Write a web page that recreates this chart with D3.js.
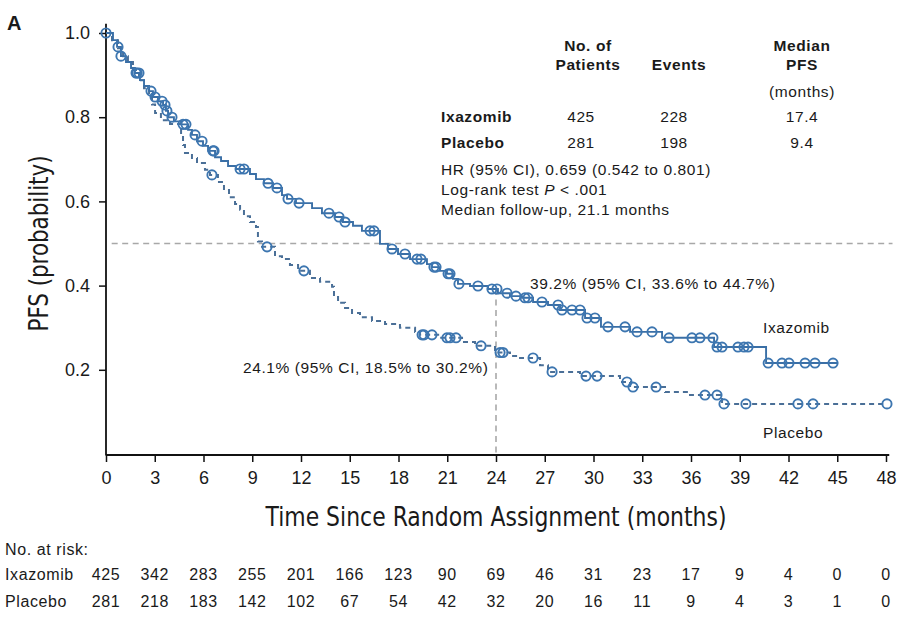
<!DOCTYPE html>
<html><head><meta charset="utf-8">
<script src="https://cdn.jsdelivr.net/npm/d3@7"></script>
<style>
body{margin:0;background:#fff;}
svg{display:block;}
text{font-family:"Liberation Sans",Arial,Helvetica,sans-serif;fill:#1a1a1a;}
.cond{font-family:"Liberation Sans Narrow","DejaVu Sans Condensed","Liberation Sans",sans-serif;}
.t{letter-spacing:0.6px;}
</style></head>
<body>
<svg id="chart" width="904" height="626"></svg>
<script>
// ---- data ----
const xTicks = [0,3,6,9,12,15,18,21,24,27,30,33,36,39,42,45,48];
const yTicks = [0.2,0.4,0.6,0.8,1.0];
const groups = ["Ixazomib","Placebo"];
// Kaplan-Meier step points [time (months), survival after drop]
const ixaSteps = [[0,1],[0.43,0.983],[0.68,0.967],[0.92,0.945],[1.23,0.931],[1.54,0.917],[1.78,0.905],[2.09,0.888],[2.34,0.874],[2.65,0.862],[2.89,0.848],[3.20,0.838],[3.51,0.829],[3.69,0.815],[3.82,0.800],[4.18,0.790],[4.62,0.783],[5.05,0.770],[5.29,0.758],[5.60,0.743],[5.97,0.732],[6.28,0.720],[6.71,0.705],[7.08,0.696],[7.51,0.684],[8.00,0.677],[8.86,0.665],[9.23,0.653],[9.72,0.643],[10.28,0.632],[10.83,0.615],[11.14,0.606],[11.69,0.596],[12.68,0.584],[13.29,0.572],[14.09,0.563],[14.58,0.551],[15.20,0.542],[15.75,0.530],[16.86,0.499],[17.35,0.487],[17.97,0.475],[18.71,0.463],[19.75,0.451],[20.06,0.444],[20.55,0.435],[20.98,0.428],[21.35,0.416],[21.66,0.404],[22.40,0.399],[23.51,0.392],[24.12,0.382],[24.86,0.375],[25.60,0.371],[26.28,0.361],[27.20,0.354],[27.94,0.342],[29.48,0.323],[30.46,0.302],[32.25,0.290],[34.22,0.276],[37.42,0.254],[40.62,0.216]];
const ixaEnd = 45.05;
const ixaCensor = [0,0.74,0.92,1.85,1.91,2.03,2.77,3.02,3.45,3.63,3.75,4.06,4.74,4.92,5.48,5.91,6.58,6.65,8.25,8.49,9.97,10.52,11.2,11.88,13.72,14.34,14.71,16.25,16.49,17.6,18.4,19.14,19.38,20.18,20.31,21.05,21.17,21.72,22.89,23.75,24.06,24.68,25.23,25.78,25.97,26.83,27.82,28.06,28.68,29.17,29.6,30.09,30.89,31.94,32.68,33.6,34.65,36.06,36.55,37.35,37.6,37.91,38.89,39.26,39.51,40.75,41.6,42.03,43.02,43.63,44.74];
const plaSteps = [[0,1],[0.37,0.983],[0.74,0.964],[1.05,0.945],[1.35,0.931],[1.66,0.912],[2.03,0.888],[2.34,0.869],[2.65,0.848],[2.83,0.830],[3.02,0.810],[3.38,0.793],[3.94,0.784],[4.62,0.758],[4.74,0.734],[4.86,0.715],[5.29,0.703],[5.60,0.691],[6.09,0.675],[6.40,0.663],[6.89,0.646],[7.26,0.627],[7.57,0.610],[7.94,0.594],[8.25,0.580],[8.49,0.565],[8.86,0.551],[9.23,0.539],[9.35,0.505],[9.6,0.492],[10.4,0.470],[10.83,0.463],[11.32,0.449],[11.82,0.435],[12.55,0.418],[13.17,0.409],[13.91,0.397],[14.03,0.373],[14.28,0.359],[14.71,0.347],[15.14,0.335],[15.63,0.325],[16.37,0.316],[17.17,0.309],[18.09,0.300],[19.02,0.290],[19.32,0.283],[20.55,0.276],[21.91,0.266],[22.71,0.257],[23.94,0.241],[24.86,0.233],[25.48,0.228],[26.71,0.211],[27.2,0.195],[29.17,0.185],[31.63,0.171],[32.25,0.159],[34.4,0.147],[35.94,0.140],[37.91,0.119]];
const plaEnd = 48.06;
const plaCensor = [6.52,9.91,12.18,19.45,19.57,20.06,20.98,21.17,21.54,23.08,24.25,24.43,26.28,27.45,29.54,30.22,32.06,32.43,33.85,36.86,37.6,38.03,39.38,42.58,43.51,48.06];
const riskIxa = [425,342,283,255,201,166,123,90,69,46,31,23,17,9,4,0,0];
const riskPla = [281,218,183,142,102,67,54,42,32,20,16,11,9,4,3,1,0];
const tableHead = [["No. of","Patients"],["","Events"],["Median","PFS"]];
const tableRows = [["Ixazomib","425","228","17.4"],["Placebo","281","198","9.4"]];
const medianLine = 0.5, landmark = 24, ixaAt24 = 0.392, plaAt24 = 0.241;

// ---- drawing ----
const svg = d3.select("#chart");
const x = d3.scaleLinear().domain([0,48]).range([106,886]);
const y = d3.scaleLinear().domain([0,1]).range([454,33]);
const ixaColor = "#3a6fa6", plaColor = "#4a6f97", circColor = "#3d76b0";

// reference lines
svg.append("line").attr("x1",x(0.35)).attr("x2",x(48.4)).attr("y1",y(medianLine)).attr("y2",y(medianLine))
  .attr("stroke","#a8a8a8").attr("stroke-width",1.6).attr("stroke-dasharray","6,4.5");
svg.append("line").attr("x1",x(landmark)).attr("x2",x(landmark)).attr("y1",y(ixaAt24)).attr("y2",y(0))
  .attr("stroke","#a8a8a8").attr("stroke-width",1.6).attr("stroke-dasharray","6,4.5");

// axes
const xAxis = svg.append("g").attr("transform",`translate(0,${y(0)+1})`)
  .call(d3.axisBottom(x).tickValues(xTicks).tickSize(7).tickSizeOuter(0).tickPadding(9));
xAxis.select(".domain").attr("stroke","#111").attr("stroke-width",1.8).attr("d",`M${x(0)},0H${x(48.2)}`);
xAxis.selectAll(".tick line").attr("stroke","#111").attr("stroke-width",1.5);
xAxis.selectAll(".tick text").attr("font-size",18).attr("fill","#1a1a1a").attr("font-family","Liberation Sans, Arial, sans-serif");

const yAxis = svg.append("g").attr("transform",`translate(${x(0)},0)`)
  .call(d3.axisLeft(y).tickValues(yTicks).tickFormat(d3.format(".1f")).tickSize(7).tickSizeOuter(0).tickPadding(9));
yAxis.select(".domain").attr("stroke","#111").attr("stroke-width",1.8).attr("d",`M0,${y(1.022)}V${y(0)+1.5}`);
yAxis.selectAll(".tick line").attr("stroke","#111").attr("stroke-width",1.5);
yAxis.selectAll(".tick text").attr("font-size",18).attr("fill","#1a1a1a").attr("font-family","Liberation Sans, Arial, sans-serif");

// axis titles
svg.append("text").attr("class","cond").attr("x",496).attr("y",526).attr("text-anchor","middle")
  .attr("font-size",27).attr("textLength",461).attr("lengthAdjust","spacingAndGlyphs")
  .text("Time Since Random Assignment (months)");
svg.append("text").attr("class","cond").attr("transform",`translate(48,${y(0.5)}) rotate(-90)`).attr("text-anchor","middle")
  .attr("font-size",27).attr("textLength",176).attr("lengthAdjust","spacingAndGlyphs")
  .text("PFS (probability)");
svg.append("text").attr("x",7).attr("y",30).attr("font-size",20).attr("font-weight","bold").text("A");

// curves
function path(steps,end){
  const pts = steps.concat([[end, steps[steps.length-1][1]]]);
  return d3.line().x(d=>x(d[0])).y(d=>y(d[1])).curve(d3.curveStepAfter)(pts);
}
function survAt(steps,t){let s=1;for(const d of steps){if(d[0]<=t+1e-9)s=d[1];}return s;}

svg.append("path").attr("d",path(plaSteps,plaEnd)).attr("fill","none").attr("stroke",plaColor)
  .attr("stroke-width",2).attr("stroke-dasharray","5,4");
svg.append("path").attr("d",path(ixaSteps,ixaEnd)).attr("fill","none").attr("stroke",ixaColor).attr("stroke-width",1.9);

svg.append("g").selectAll("circle").data(plaCensor).join("circle")
  .attr("cx",d=>x(d)).attr("cy",d=>y(survAt(plaSteps,d))).attr("r",4.6)
  .attr("fill","none").attr("stroke",circColor).attr("stroke-width",1.9);
svg.append("g").selectAll("circle").data(ixaCensor).join("circle")
  .attr("cx",d=>x(d)).attr("cy",d=>y(survAt(ixaSteps,d))).attr("r",4.6)
  .attr("fill","none").attr("stroke",circColor).attr("stroke-width",1.9);

// annotations
const fs = 15.5;
svg.append("text").attr("class","t").attr("x",530).attr("y",289).attr("font-size",fs).text("39.2% (95% CI, 33.6% to 44.7%)");
svg.append("text").attr("class","t").attr("x",243).attr("y",373).attr("font-size",fs).text("24.1% (95% CI, 18.5% to 30.2%)");
svg.append("text").attr("class","t").attr("x",763).attr("y",333).attr("font-size",fs).text(groups[0]);
svg.append("text").attr("class","t").attr("x",763).attr("y",438).attr("font-size",fs).text(groups[1]);

// summary table
const colX = [588,679,802];
const valX = [581,674,802];
tableHead.forEach((h,i)=>{
  if(h[0]) svg.append("text").attr("class","t").attr("x",colX[i]).attr("y",51).attr("text-anchor","middle").attr("font-size",fs).attr("font-weight","bold").text(h[0]);
  svg.append("text").attr("class","t").attr("x",colX[i]).attr("y",70).attr("text-anchor","middle").attr("font-size",fs).attr("font-weight","bold").text(h[1]);
});
svg.append("text").attr("class","t").attr("x",802).attr("y",97).attr("text-anchor","middle").attr("font-size",fs).text("(months)");
tableRows.forEach((r,i)=>{
  const yy = 122 + i*26;
  svg.append("text").attr("class","t").attr("x",441).attr("y",yy).attr("font-size",fs).attr("font-weight","bold").text(r[0]);
  r.slice(1).forEach((v,j)=>svg.append("text").attr("class","t").attr("x",valX[j]).attr("y",yy).attr("text-anchor","middle").attr("font-size",fs).text(v));
});
svg.append("text").attr("class","t").attr("x",441).attr("y",175).attr("font-size",fs).text("HR (95% CI), 0.659 (0.542 to 0.801)");
const lr = svg.append("text").attr("class","t").attr("x",441).attr("y",195).attr("font-size",fs);
lr.append("tspan").text("Log-rank test ");
lr.append("tspan").attr("font-style","italic").text("P");
lr.append("tspan").text(" < .001");
svg.append("text").attr("class","t").attr("x",441).attr("y",215).attr("font-size",fs).text("Median follow-up, 21.1 months");

// number at risk
svg.append("text").attr("class","t").attr("x",5).attr("y",555).attr("font-size",16).text("No. at risk:");
[[groups[0],riskIxa,580],[groups[1],riskPla,607]].forEach(([name,vals,yy])=>{
  svg.append("text").attr("class","t").attr("x",5).attr("y",yy).attr("font-size",16).text(name);
  svg.append("g").selectAll("text").data(vals).join("text").attr("class","t")
    .attr("x",(d,i)=>x(xTicks[i])).attr("y",yy).attr("text-anchor","middle").attr("font-size",16).text(d=>d);
});
</script>
</body></html>
